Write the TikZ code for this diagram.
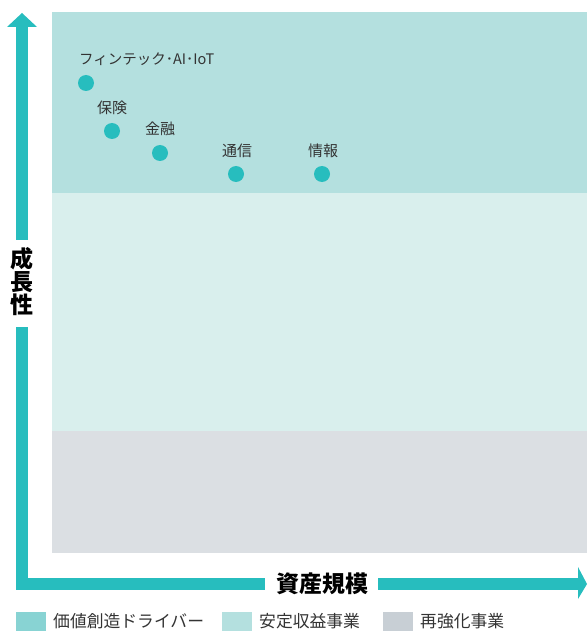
\documentclass[tikz,border=0pt]{standalone}
\usepackage{fontspec}
\setmainfont{Noto Sans CJK JP}
\definecolor{teal}{HTML}{27BDBE}
\definecolor{regtop}{HTML}{B4E0DF}
\definecolor{regmid}{HTML}{D9EFED}
\definecolor{regbot}{HTML}{DBDFE3}
\definecolor{legA}{HTML}{88D3D3}
\definecolor{legB}{HTML}{B4E0DF}
\definecolor{legC}{HTML}{C8CFD5}
\definecolor{txt}{HTML}{333333}
\begin{document}
\begin{tikzpicture}[x=1pt,y=-1pt,
  dot/.style={circle,fill=teal,minimum size=16pt,inner sep=0pt},
  lbl/.style={font=\fontsize{15}{15}\selectfont,text=txt,inner sep=0pt},
  leg/.style={font=\fontsize{16.8}{16.8}\selectfont,text=txt,inner sep=0pt,anchor=west},
  axislbl/.style={font=\fontsize{23}{24}\selectfont\bfseries,text=black,inner sep=0pt}]
\useasboundingbox (0,0) rectangle (587,631);
% regions
\fill[regtop] (52,12) rectangle (587,193);
\fill[regmid] (52,193) rectangle (587,431);
\fill[regbot] (52,431) rectangle (587,553);
% axis labels
\node[axislbl] (ylab1) at (22,259) {成};
\node[axislbl] (ylab2) at (22,282) {長};
\node[axislbl] (ylab3) at (22,305) {性};
\node[axislbl] (xlab) at (322,584) {資産規模};
% axes
\fill[teal] (16,27) rectangle (28,240);
\fill[teal] (7,27) -- (22,13) -- (37,27) -- cycle;
\fill[teal] (16,327) rectangle (28,590);
\fill[teal] (16,578) rectangle (265,590);
\fill[teal] (378,578) rectangle (578,590);
\fill[teal] (578,567) -- (587,584) -- (578,599) -- cycle;
% dots
\node[dot] (d1) at (86,83) {};
\node[dot] (d2) at (112,131) {};
\node[dot] (d3) at (160,153) {};
\node[dot] (d4) at (236,174) {};
\node[dot] (d5) at (322,174) {};
\node[lbl,anchor=west,font=\fontsize{14.5}{14.5}\selectfont] (l1) at (79,59) {フィンテック･AI･IoT};
\node[lbl] (l2) at (112,108) {保険};
\node[lbl] (l3) at (160,129) {金融};
\node[lbl] (l4) at (237,151) {通信};
\node[lbl] (l5) at (323,151) {情報};
% legend
\fill[legA] (16,612) rectangle (46,631);
\node[leg] (t1) at (53,621.5) {価値創造ドライバー};
\fill[legB] (222,612) rectangle (252,631);
\node[leg] (t2) at (259,621.5) {安定収益事業};
\fill[legC] (383,612) rectangle (413,631);
\node[leg] (t3) at (420,621.5) {再強化事業};
\end{tikzpicture}
\end{document}
